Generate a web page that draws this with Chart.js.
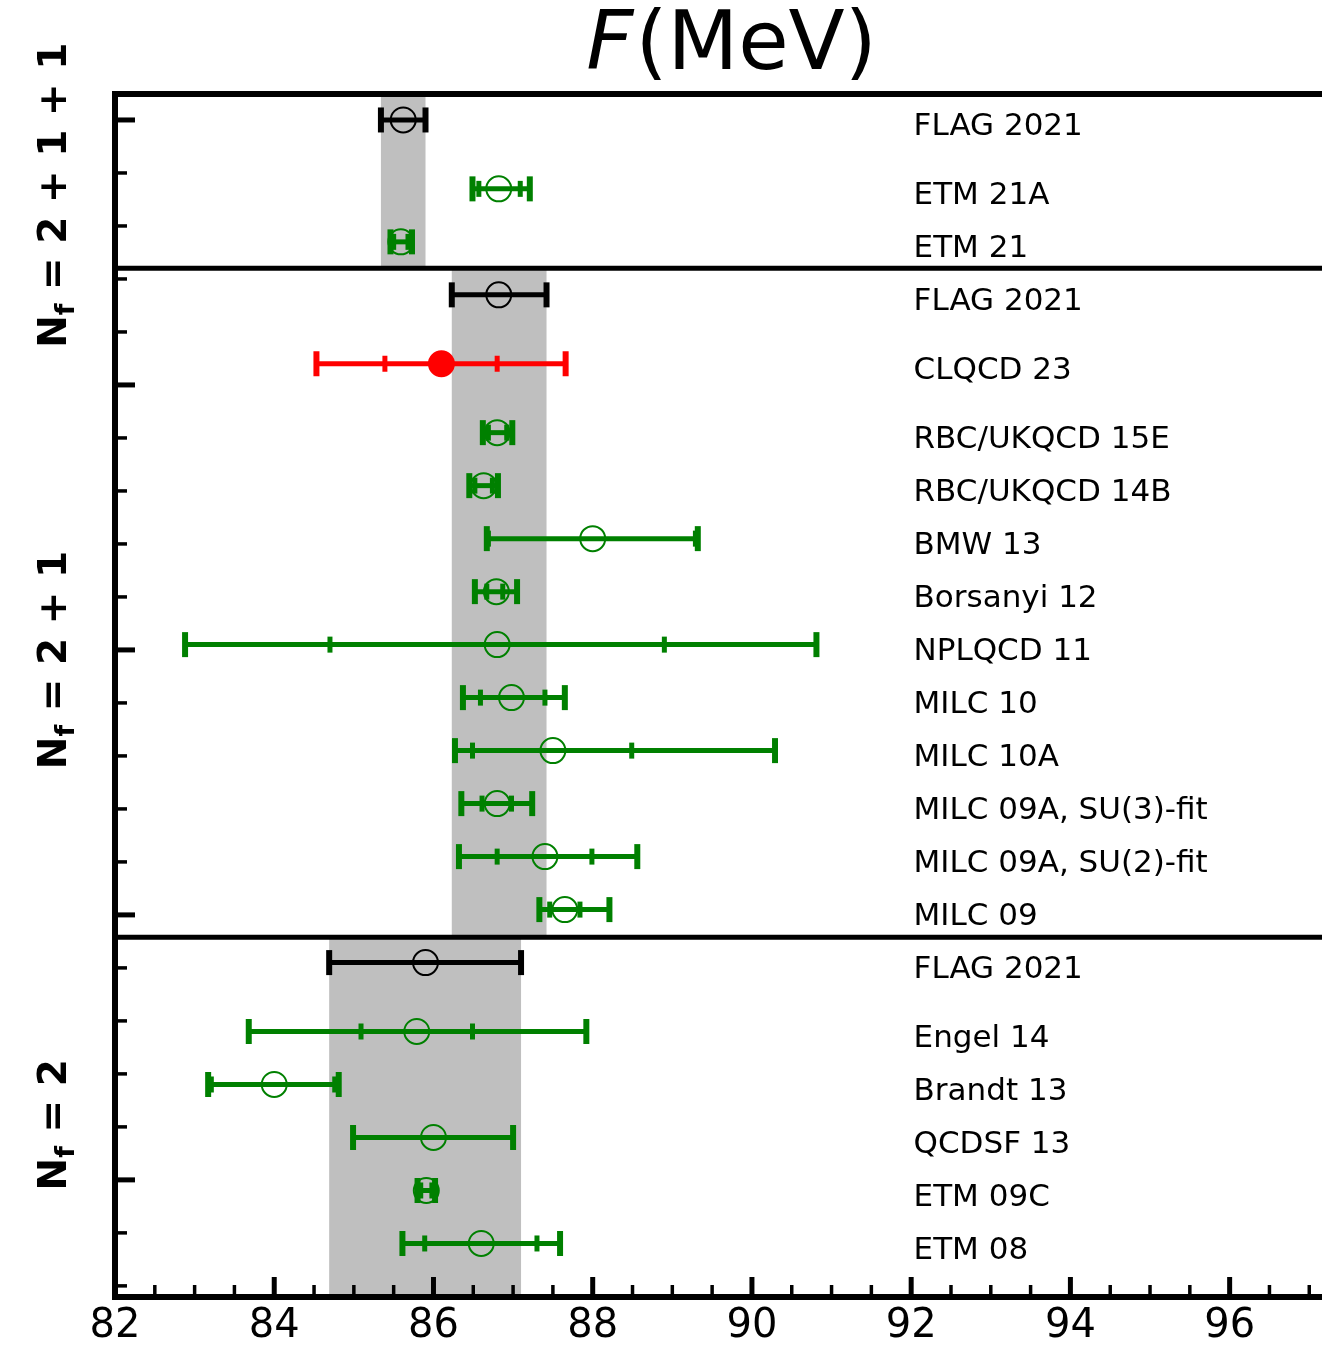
<!DOCTYPE html>
<html>
<head>
<meta charset="utf-8">
<script src="https://cdn.jsdelivr.net/npm/chart.js@4.4.1/dist/chart.umd.min.js"></script>
<style>
    html, body { margin: 0; padding: 0; background: #fff; overflow: hidden; }
    #myChart { display: block; }
</style>
</head>
<body>
<canvas id="myChart" width="1322" height="1349"></canvas>
<script>
// one row per lattice result, top to bottom
let rowLabels = [
    'FLAG 2021', 'ETM 21A', 'ETM 21',
    'FLAG 2021', 'CLQCD 23', 'RBC/UKQCD 15E', 'RBC/UKQCD 14B', 'BMW 13', 'Borsanyi 12',
    'NPLQCD 11', 'MILC 10', 'MILC 10A', 'MILC 09A, SU(3)-fit', 'MILC 09A, SU(2)-fit', 'MILC 09',
    'FLAG 2021', 'Engel 14', 'Brandt 13', 'QCDSF 13', 'ETM 09C', 'ETM 08'
];
let rowY = [
    0, 1.3, 2.3,
    3.3, 4.6, 5.9, 6.9, 7.9, 8.9, 9.9, 10.9, 11.9, 12.9, 13.9, 14.9,
    15.9, 17.2, 18.2, 19.2, 20.2, 21.2
];
let rowKind = [
    'flag', 'lat', 'lat',
    'flag', 'new', 'lat', 'lat', 'lat', 'lat', 'lat', 'lat', 'lat', 'lat', 'lat', 'lat',
    'flag', 'lat', 'lat', 'lat', 'lat', 'lat'
];
let central = [
    85.62, 86.82, 85.59,
    86.82, 86.10, 86.80, 86.63, 88.00, 86.79, 86.80, 86.98, 87.50, 86.80, 87.40, 87.65,
    85.90, 85.79, 84.00, 86.00, 85.91, 86.60
];
// total error
let totLo = [
    85.34, 86.49, 85.46,
    86.23, 84.53, 86.62, 86.45, 86.67, 86.52, 82.88, 86.37, 86.27, 86.35, 86.32, 87.33,
    84.69, 83.68, 83.17, 84.99, 85.80, 85.61
];
let totHi = [
    85.90, 87.21, 85.73,
    87.42, 87.66, 86.99, 86.81, 89.32, 87.05, 90.81, 87.65, 90.29, 87.24, 88.56, 88.21,
    87.10, 87.92, 84.81, 87.00, 86.02, 87.59
];
// statistical error (inner ticks)
let statLo = [
    null, 86.57, 85.50,
    null, 85.39, 86.69, 86.52, 86.69, 86.67, 84.70, 86.59, 86.49, 86.61, 86.80, 87.46,
    null, 85.09, 83.21, null, 85.84, 85.89
];
let statHi = [
    null, 87.09, 85.68,
    null, 86.80, 86.92, 86.74, 89.29, 86.87, 88.90, 87.40, 88.49, 86.98, 87.99, 87.84,
    null, 86.49, 84.76, null, 85.98, 87.30
];

let panelEdges = [-0.49, 2.8, 15.42, 22.21];
let flagRows = [0, 3, 15];
let groupText = ['2 + 1 + 1', '2 + 1', '2'];
let groupY = [1.42, 10.19, 18.96];

let xMin = 82, xMax = 97.16;
let xTickLabels = [82, 84, 86, 88, 90, 92, 94, 96];
let labelX = 92.03;
let titleX = 89.73;

let colors = { flag: '#000000', lat: '#008000', new: '#ff0000' };
let bandColor = '#bfbfbf';
let fontFamily = '"DejaVu Sans", "Liberation Sans", sans-serif';

let datasets = [];
for (let i = 0; i < rowLabels.length; i++) {
    let color = colors[rowKind[i]];
    // whole error bar with end caps
    datasets.push({
        data: [{ x: totLo[i], y: rowY[i] }, { x: totHi[i], y: rowY[i] }],
        showLine: true,
        borderColor: color,
        borderWidth: 5,
        pointStyle: 'line',
        pointRotation: 90,
        pointRadius: 12.5,
        pointHoverRadius: 12.5,
        pointBorderWidth: 6,
        pointBorderColor: color,
        order: 3
    });
    if (statLo[i] !== null) {
        datasets.push({
            data: [{ x: statLo[i], y: rowY[i] }, { x: statHi[i], y: rowY[i] }],
            showLine: false,
            pointStyle: 'line',
            pointRotation: 90,
            pointRadius: 8,
            pointHoverRadius: 8,
            pointBorderWidth: 5,
            pointBorderColor: color,
            order: 2
        });
    }
    datasets.push({
        data: [{ x: central[i], y: rowY[i] }],
        pointStyle: 'circle',
        pointRadius: 12.5,
        pointHoverRadius: 12.5,
        pointBorderWidth: 2,
        pointBorderColor: color,
        pointBackgroundColor: rowKind[i] === 'new' ? color : 'rgba(0,0,0,0)',
        order: 1
    });
}

let decor = {
    id: 'decor',
    beforeDatasetsDraw(chart) {
        let ctx = chart.ctx;
        let xs = chart.scales.x, ys = chart.scales.y;
        ctx.save();
        ctx.fillStyle = bandColor;
        for (let p = 0; p < flagRows.length; p++) {
            let r = flagRows[p];
            let x0 = xs.getPixelForValue(totLo[r]);
            let x1 = xs.getPixelForValue(totHi[r]);
            let y0 = ys.getPixelForValue(panelEdges[p]);
            let y1 = ys.getPixelForValue(panelEdges[p + 1]);
            ctx.fillRect(x0, y0, x1 - x0, y1 - y0);
        }
        ctx.restore();
    },
    afterDatasetsDraw(chart) {
        let ctx = chart.ctx;
        let xs = chart.scales.x, ys = chart.scales.y;
        let area = chart.chartArea;
        ctx.save();
        ctx.strokeStyle = '#000';
        ctx.lineCap = 'butt';

        // ticks pointing inwards
        for (let v = 0; v <= 22; v++) {
            let y = ys.getPixelForValue(v);
            let major = v % 5 === 0;
            ctx.lineWidth = major ? 5 : 3.5;
            ctx.beginPath();
            ctx.moveTo(area.left, y);
            ctx.lineTo(area.left + (major ? 20 : 12), y);
            ctx.stroke();
        }
        for (let v = xMin; v <= xMax; v += 0.5) {
            let x = xs.getPixelForValue(v);
            let major = v % 2 === 0;
            ctx.lineWidth = major ? 5 : 3.5;
            ctx.beginPath();
            ctx.moveTo(x, area.bottom);
            ctx.lineTo(x, area.bottom - (major ? 20 : 12));
            ctx.stroke();
        }

        // frame and panel dividers
        ctx.lineWidth = 6;
        ctx.beginPath();
        ctx.moveTo(area.left, area.top - 3);
        ctx.lineTo(area.left, area.bottom + 3);
        ctx.moveTo(area.left, area.top);
        ctx.lineTo(chart.width, area.top);
        ctx.moveTo(area.left, area.bottom);
        ctx.lineTo(chart.width, area.bottom);
        ctx.stroke();
        ctx.lineWidth = 5;
        for (let p = 1; p < panelEdges.length - 1; p++) {
            let y = ys.getPixelForValue(panelEdges[p]);
            ctx.beginPath();
            ctx.moveTo(area.left, y);
            ctx.lineTo(chart.width, y);
            ctx.stroke();
        }

        // row names
        ctx.fillStyle = '#000';
        ctx.font = '31px ' + fontFamily;
        ctx.textAlign = 'left';
        ctx.textBaseline = 'middle';
        let lx = xs.getPixelForValue(labelX);
        for (let i = 0; i < rowLabels.length; i++) {
            ctx.fillText(rowLabels[i], lx, ys.getPixelForValue(rowY[i]) + 7);
        }
        ctx.restore();
    },
    afterDraw(chart) {
        let ctx = chart.ctx;
        let xs = chart.scales.x, ys = chart.scales.y;
        let area = chart.chartArea;
        ctx.save();
        ctx.fillStyle = '#000';
        ctx.textBaseline = 'alphabetic';

        // x tick labels
        ctx.font = '40px ' + fontFamily;
        ctx.textAlign = 'center';
        for (let v of xTickLabels) {
            ctx.fillText(String(v), xs.getPixelForValue(v), area.bottom + 40);
        }
        ctx.textAlign = 'left';

        // title: F(MeV)
        let italic = 'italic 82px ' + fontFamily;
        let upright = '82px ' + fontFamily;
        ctx.font = italic;
        let wF = ctx.measureText('F').width;
        ctx.font = upright;
        let wRest = ctx.measureText('(MeV)').width;
        let tx = xs.getPixelForValue(titleX) - (wF + wRest) / 2;
        ctx.font = italic;
        ctx.fillText('F', tx, 69);
        ctx.font = upright;
        ctx.fillText('(MeV)', tx + wF + 2, 69);

        // N_f group labels, rotated
        let big = 'bold 39px ' + fontFamily;
        let small = 'bold 27px ' + fontFamily;
        for (let g = 0; g < groupText.length; g++) {
            let rest = ' = ' + groupText[g];
            ctx.font = big;
            let wN = ctx.measureText('N').width;
            let wR = ctx.measureText(rest).width;
            ctx.font = small;
            let wf = ctx.measureText('f').width;
            let total = wN + wf + wR;
            ctx.save();
            ctx.translate(52, ys.getPixelForValue(groupY[g]));
            ctx.rotate(-Math.PI / 2);
            let x0 = -total / 2;
            ctx.font = big;
            ctx.fillText('N', x0, 14.2);
            ctx.font = small;
            ctx.fillText('f', x0 + wN, 21.5);
            ctx.font = big;
            ctx.fillText(rest, x0 + wN + wf, 14.2);
            ctx.restore();
        }
        ctx.restore();
    }
};

let ctx = document.getElementById('myChart');
let myChart = new Chart(ctx, {
    type: 'scatter',
    data: { datasets: datasets },
    options: {
        responsive: false,
        devicePixelRatio: 1,
        animation: false,
        events: [],
        layout: {
            autoPadding: false,
            padding: { left: 115, right: 0, top: 94, bottom: 52 }
        },
        scales: {
            x: {
                type: 'linear',
                min: xMin,
                max: xMax,
                bounds: 'data',
                display: false
            },
            y: {
                type: 'linear',
                reverse: true,
                min: panelEdges[0],
                max: panelEdges[panelEdges.length - 1],
                bounds: 'data',
                display: false
            }
        },
        plugins: {
            legend: { display: false },
            tooltip: { enabled: false }
        }
    },
    plugins: [decor]
});
</script>
</body>
</html>
